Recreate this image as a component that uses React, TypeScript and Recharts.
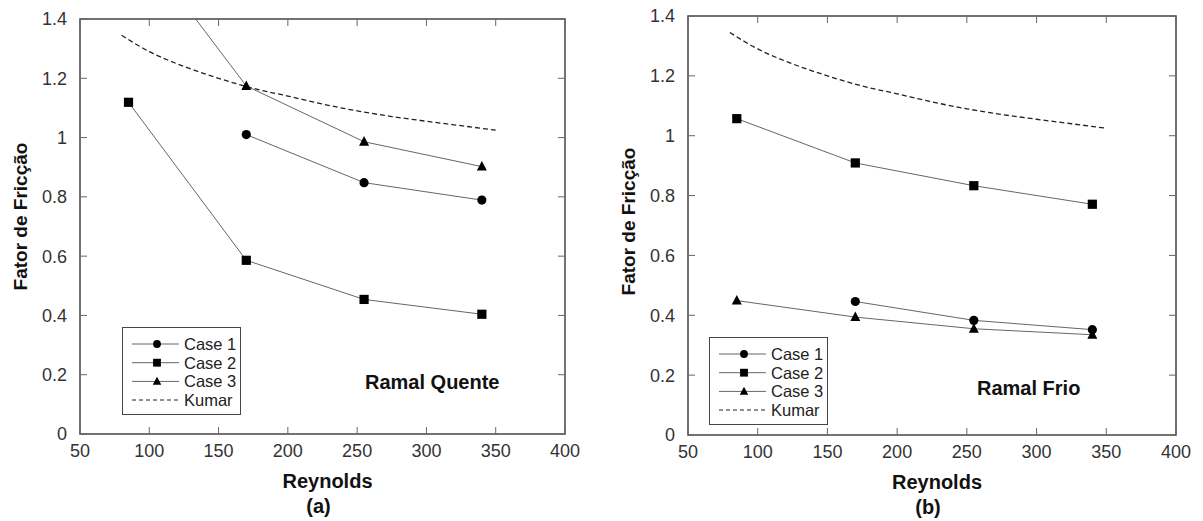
import { LineChart, Line, XAxis, YAxis, ReferenceArea, Label } from 'recharts';

// Reynolds numbers of the measured points
const reynolds = [85, 170, 255, 340];

// (a) Ramal Quente
const quenteCase1 = [null, 1.01, 0.848, 0.789];
const quenteCase2 = [1.119, 0.586, 0.454, 0.404];
const quenteCase3 = [1.7, 1.174, 0.986, 0.902];

// (b) Ramal Frio
const frioCase1 = [null, 0.446, 0.383, 0.352];
const frioCase2 = [1.057, 0.909, 0.833, 0.771];
const frioCase3 = [0.449, 0.394, 0.355, 0.335];

// Kumar correlation (dashed curve), same on both panels
const kumarRe = [80, 100, 125, 150, 175, 200, 225, 250, 275, 300, 325, 350];
const kumarF = [1.345, 1.29, 1.24, 1.2, 1.166, 1.14, 1.113, 1.09, 1.071, 1.055, 1.04, 1.025];

const xTicks = [50, 100, 150, 200, 250, 300, 350, 400];
const yTicks = [0, 0.2, 0.4, 0.6, 0.8, 1, 1.2, 1.4];

const FONT = '"Liberation Sans", Arial, Helvetica, sans-serif';
const LINE = '#666';
const FRAME = '#4a4446';

type Kind = 'circle' | 'square' | 'triangle';

const toPoints = (xs: number[], ys: (number | null)[]) =>
  xs.map((x, i) => ({ x, y: ys[i] })).filter((p) => p.y !== null);

const kumarData = toPoints(kumarRe, kumarF);

const Marker = ({ kind, cx, cy, s = 1 }: { kind: Kind; cx: number; cy: number; s?: number }) => {
  if (kind === 'circle') return <circle cx={cx} cy={cy} r={4.6 * s} fill="#000" />;
  if (kind === 'square') {
    const h = 4.6 * s;
    return <rect x={cx - h} y={cy - h} width={2 * h} height={2 * h} fill="#000" />;
  }
  return (
    <polygon
      points={`${cx},${cy - 5.6 * s} ${cx - 5 * s},${cy + 4 * s} ${cx + 5 * s},${cy + 4 * s}`}
      fill="#000"
    />
  );
};

const makeDot = (kind: Kind) => (p: any) => {
  if (p.cx == null || p.cy == null) return <g key={p.key} />;
  return (
    <g key={p.key}>
      <Marker kind={kind} cx={p.cx} cy={p.cy} />
    </g>
  );
};

interface PanelProps {
  left: number;
  width: number;
  height: number;
  top: number;
  right: number;
  yAxisWidth: number;
  xAxisHeight: number;
  case1: (number | null)[];
  case2: (number | null)[];
  case3: (number | null)[];
  title: string;
  titleX: number;
  titleY: number;
  letter: string;
  legendX: number;
  legendY: number;
  yLabelDx: number;
  yLabelDy: number;
}

const Panel = (props: PanelProps) => {
  const { width, height, top, right, yAxisWidth, xAxisHeight } = props;
  const plotLeft = yAxisWidth;
  const plotRight = width - right;
  const plotTop = top;
  const plotBottom = height - xAxisHeight;

  const xTick = (p: any) => (
    <g key={p.key ?? p.index}>
      <line x1={p.x} x2={p.x} y1={plotBottom} y2={plotBottom - 7} stroke={LINE} />
      <line x1={p.x} x2={p.x} y1={plotTop} y2={plotTop + 7} stroke={LINE} />
      <text x={p.x} y={p.y} dy="0.71em" textAnchor="middle" fontSize={18} fill="#333" fontFamily={FONT}>
        {p.payload.value}
      </text>
    </g>
  );

  const yTick = (p: any) => (
    <g key={p.key ?? p.index}>
      <line x1={plotLeft} x2={plotLeft + 7} y1={p.y} y2={p.y} stroke={LINE} />
      <line x1={plotRight - 7} x2={plotRight} y1={p.y} y2={p.y} stroke={LINE} />
      <text x={p.x} y={p.y} dy="0.36em" textAnchor="end" fontSize={18} fill="#333" fontFamily={FONT}>
        {p.payload.value}
      </text>
    </g>
  );

  const series: { name: string; ys: (number | null)[]; kind: Kind }[] = [
    { name: 'Case 1', ys: props.case1, kind: 'circle' },
    { name: 'Case 2', ys: props.case2, kind: 'square' },
    { name: 'Case 3', ys: props.case3, kind: 'triangle' },
  ];

  return (
    <div style={{ position: 'absolute', left: props.left, top: 0, width, height }}>
      <LineChart width={width} height={height} margin={{ top, right, bottom: 0, left: 0 }}>
        <XAxis
          type="number"
          dataKey="x"
          domain={[50, 400]}
          ticks={xTicks}
          interval={0}
          allowDataOverflow
          height={xAxisHeight}
          axisLine={false}
          tickLine={false}
          tickSize={0}
          tickMargin={10}
          tick={xTick}
        >
          <Label
            content={({ viewBox }: any) => (
              <g fontFamily={FONT} fontWeight="bold" fontSize={20} fill="#111">
                <text x={viewBox.x + viewBox.width / 2 + 5} y={viewBox.y + 54} textAnchor="middle">
                  Reynolds
                </text>
                <text x={viewBox.x + viewBox.width / 2 - 4} y={viewBox.y + 79} textAnchor="middle">
                  {props.letter}
                </text>
              </g>
            )}
          />
        </XAxis>
        <YAxis
          type="number"
          dataKey="y"
          domain={[0, 1.4]}
          ticks={yTicks}
          interval={0}
          allowDataOverflow
          width={yAxisWidth}
          axisLine={false}
          tickLine={false}
          tickSize={0}
          tickMargin={13}
          tick={yTick}
        >
          <Label
            content={({ viewBox }: any) => {
              const cx = viewBox.x + props.yLabelDx;
              const cy = viewBox.y + viewBox.height / 2 + props.yLabelDy;
              return (
                <text
                  x={cx}
                  y={cy}
                  transform={`rotate(-90 ${cx} ${cy})`}
                  dy="0.36em"
                  textAnchor="middle"
                  fontFamily={FONT}
                  fontWeight="bold"
                  fontSize={19}
                  fill="#111"
                >
                  Fator de Fricção
                </text>
              );
            }}
          />
        </YAxis>
        <ReferenceArea x1={50} x2={400} y1={0} y2={1.4} fill="none" stroke={FRAME} strokeWidth={1.5} />
        <Line
          data={kumarData}
          dataKey="y"
          type="monotone"
          stroke="#222"
          strokeWidth={1.3}
          strokeDasharray="5 3"
          dot={false}
          isAnimationActive={false}
        />
        {series.map((s) => (
          <Line
            key={s.name}
            data={toPoints(reynolds, s.ys)}
            dataKey="y"
            name={s.name}
            type="linear"
            stroke={LINE}
            strokeWidth={1}
            dot={makeDot(s.kind)}
            isAnimationActive={false}
          />
        ))}
      </LineChart>

      <div
        style={{
          position: 'absolute',
          left: props.titleX,
          top: props.titleY,
          fontFamily: FONT,
          fontWeight: 'bold',
          fontSize: 20,
          color: '#111',
          whiteSpace: 'nowrap',
          lineHeight: 1,
        }}
      >
        {props.title}
      </div>

      <div
        style={{
          position: 'absolute',
          left: props.legendX,
          top: props.legendY,
          width: 119,
          height: 88,
          border: `1.5px solid ${FRAME}`,
          background: '#fff',
          boxSizing: 'border-box',
        }}
      >
        <svg width={118} height={86} style={{ position: 'absolute', left: 0, top: 0 }}>
          {series.map((s, i) => {
            const y = 16 + i * 18.7;
            return (
              <g key={s.name}>
                <line x1={9} x2={56} y1={y} y2={y} stroke={LINE} />
                <Marker kind={s.kind} cx={34} cy={y} s={0.85} />
                <text x={61} y={y} dy="0.36em" fontSize={16.5} fill="#222" fontFamily={FONT}>
                  {s.name}
                </text>
              </g>
            );
          })}
          <line x1={9} x2={58} y1={72} y2={72} stroke="#222" strokeDasharray="4 3" />
          <text x={61} y={72} dy="0.36em" fontSize={16.5} fill="#222" fontFamily={FONT}>
            Kumar
          </text>
        </svg>
      </div>
    </div>
  );
};

export default function App() {
  return (
    <div style={{ position: 'absolute', left: 0, top: 0, width: 1203, height: 521, background: '#fff' }}>
      <Panel
        left={0}
        width={600}
        height={521}
        top={19}
        right={35}
        yAxisWidth={80}
        xAxisHeight={87}
        case1={quenteCase1}
        case2={quenteCase2}
        case3={quenteCase3}
        title="Ramal Quente"
        titleX={365}
        titleY={372}
        letter="(a)"
        legendX={122}
        legendY={327}
        yLabelDx={20}
        yLabelDy={-10}
      />
      <Panel
        left={600}
        width={603}
        height={521}
        top={16}
        right={27}
        yAxisWidth={88}
        xAxisHeight={86}
        case1={frioCase1}
        case2={frioCase2}
        case3={frioCase3}
        title="Ramal Frio"
        titleX={377}
        titleY={378}
        letter="(b)"
        legendX={109}
        legendY={337}
        yLabelDx={28}
        yLabelDy={-4}
      />
    </div>
  );
}
